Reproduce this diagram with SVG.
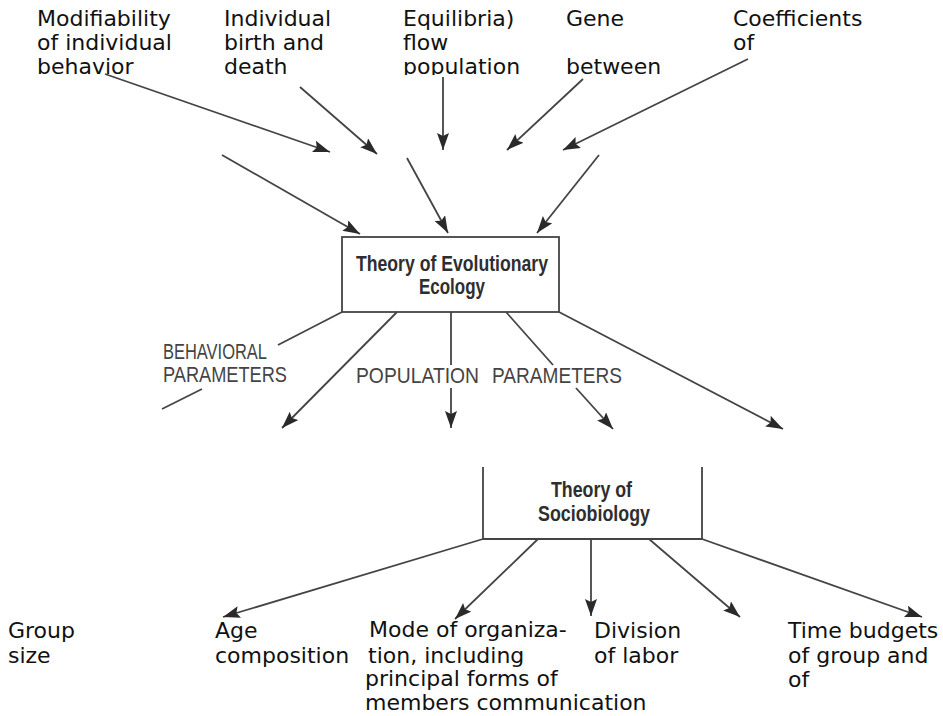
<svg xmlns="http://www.w3.org/2000/svg" width="943" height="716" viewBox="0 0 943 716">
<style>
.lbl{font-family:"DejaVu Sans",sans-serif;font-size:22px;fill:#111}
.box{fill:none;stroke:#444;stroke-width:1.8}
.bt{font-family:"Liberation Sans",Arial,sans-serif;font-weight:bold;font-size:22px;fill:#2e2e2e}
.cap{font-family:"Liberation Sans",Arial,sans-serif;font-size:22px;fill:#444}
.c line,.c path{stroke:#444;stroke-width:1.8;fill:none}
</style>
<defs>
<marker id="ah" markerUnits="userSpaceOnUse" markerWidth="19" markerHeight="13" refX="17" refY="6" orient="auto">
<path d="M0,0 L17,6 L0,12 L3,6 z" fill="#2a2a2a"/>
</marker>
<clipPath id="topclip"><rect x="0" y="0" width="943" height="75"/></clipPath>
</defs>
<rect width="943" height="716" fill="#fff"/>

<g id="top-labels" clip-path="url(#topclip)">
<g id="n-modifiability"><text class="lbl" x="37" y="26">Modifiability</text><text class="lbl" x="37" y="50">of individual</text><text class="lbl" x="37" y="74">behavior</text></g>
<g id="n-individual"><text class="lbl" x="224" y="26">Individual</text><text class="lbl" x="224" y="50">birth and</text><text class="lbl" x="224" y="74">death</text></g>
<g id="n-equilibria"><text class="lbl" x="403" y="26">Equilibria)</text><text class="lbl" x="403" y="50">flow</text><text class="lbl" x="403" y="74">population</text></g>
<g id="n-gene"><text class="lbl" x="566" y="26">Gene</text><text class="lbl" x="566" y="74">between</text></g>
<g id="n-coefficients"><text class="lbl" x="733" y="26">Coefficients</text><text class="lbl" x="733" y="50">of</text></g>
</g>

<g id="n-evolutionary-ecology">
<rect class="box" x="342" y="237" width="217" height="75"/>
<text class="bt" x="356" y="271" textLength="192" lengthAdjust="spacingAndGlyphs">Theory of Evolutionary</text>
<text class="bt" x="419" y="294" textLength="66" lengthAdjust="spacingAndGlyphs">Ecology</text>
</g>

<g id="n-behavioral-parameters">
<text class="cap" x="163" y="359" textLength="104" lengthAdjust="spacingAndGlyphs">BEHAVIORAL</text>
<text class="cap" x="163" y="382" textLength="124" lengthAdjust="spacingAndGlyphs">PARAMETERS</text>
</g>
<g id="n-population-parameters">
<text class="cap" x="356" y="383" textLength="123" lengthAdjust="spacingAndGlyphs">POPULATION</text>
<text class="cap" x="492" y="383" textLength="130" lengthAdjust="spacingAndGlyphs">PARAMETERS</text>
</g>

<g id="n-sociobiology">
<path class="box" d="M483,467 V539 H702 V467"/>
<text class="bt" x="551" y="497" font-size="20" textLength="81" lengthAdjust="spacingAndGlyphs">Theory of</text>
<text class="bt" x="538" y="521" font-size="20" textLength="112" lengthAdjust="spacingAndGlyphs">Sociobiology</text>
</g>

<g id="bottom-labels">
<g id="n-group-size"><text class="lbl" x="8" y="638">Group</text><text class="lbl" x="8" y="663">size</text></g>
<g id="n-age"><text class="lbl" x="215" y="638">Age</text><text class="lbl" x="215" y="663">composition</text></g>
<g id="n-mode"><text class="lbl" x="369" y="637">Mode of organiza-</text><text class="lbl" x="368" y="663">tion, including</text><text class="lbl" x="365" y="686">principal forms of</text><text class="lbl" x="365" y="710">members communication</text></g>
<g id="n-division"><text class="lbl" x="594" y="638">Division</text><text class="lbl" x="594" y="663">of labor</text></g>
<g id="n-time"><text class="lbl" x="788" y="638">Time budgets</text><text class="lbl" x="788" y="663">of group and</text><text class="lbl" x="788" y="687">of</text></g>
</g>

<g id="connectors" class="c">
<line x1="105" y1="74" x2="330" y2="152" marker-end="url(#ah)"/>
<line x1="300" y1="87" x2="377" y2="154" marker-end="url(#ah)"/>
<line x1="443" y1="77" x2="443" y2="150" marker-end="url(#ah)"/>
<line x1="583" y1="79" x2="507" y2="150" marker-end="url(#ah)"/>
<line x1="748" y1="59" x2="563" y2="150" marker-end="url(#ah)"/>
<line x1="222" y1="155" x2="360" y2="234" marker-end="url(#ah)"/>
<line x1="407" y1="158" x2="448" y2="233" marker-end="url(#ah)"/>
<line x1="599" y1="155" x2="537" y2="233" marker-end="url(#ah)"/>

<line x1="342" y1="312" x2="278" y2="345"/>
<line x1="202" y1="389" x2="162" y2="409"/>
<line x1="397" y1="312" x2="282" y2="428" marker-end="url(#ah)"/>
<line x1="451" y1="312" x2="451" y2="365"/>
<line x1="451" y1="388" x2="451" y2="428" marker-end="url(#ah)"/>
<line x1="506" y1="312" x2="553" y2="365"/>
<line x1="576" y1="388" x2="613" y2="429" marker-end="url(#ah)"/>
<line x1="559" y1="312" x2="783" y2="429" marker-end="url(#ah)"/>

<line x1="483" y1="539" x2="223" y2="617" marker-end="url(#ah)"/>
<line x1="538" y1="539" x2="455" y2="619" marker-end="url(#ah)"/>
<line x1="591" y1="539" x2="591" y2="616" marker-end="url(#ah)"/>
<line x1="649" y1="539" x2="740" y2="617" marker-end="url(#ah)"/>
<line x1="702" y1="539" x2="922" y2="617" marker-end="url(#ah)"/>
</g>
</svg>
